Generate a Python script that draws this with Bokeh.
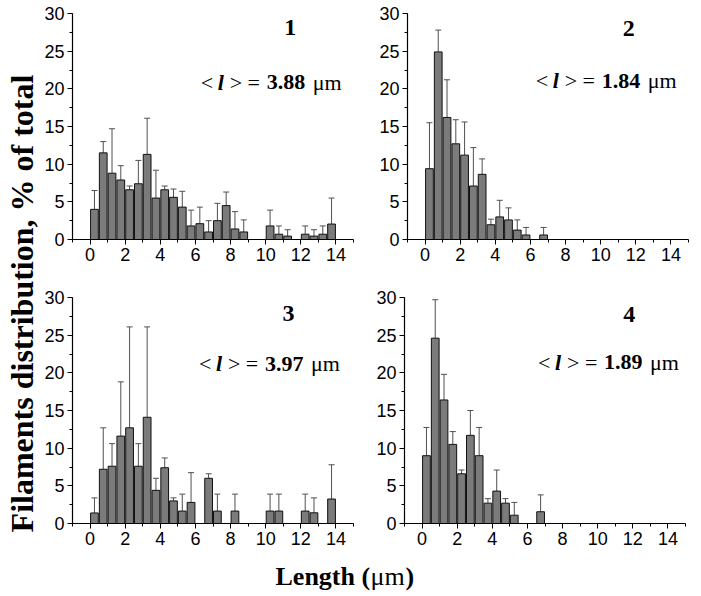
import math
from bokeh.plotting import figure
from bokeh.models import ColumnDataSource, Whisker, TeeHead, SingleIntervalTicker, Label, Range1d
from bokeh.layouts import row, column
from bokeh.embed import file_html
from bokeh.resources import INLINE

# ---------------- data (bin centres in um, % of total, error bar size) -------------
centers1 = [0.25, 0.75, 1.25, 1.75, 2.25, 2.75, 3.25, 3.75, 4.25, 4.75, 5.25, 5.75, 6.25,
            6.75, 7.25, 7.75, 8.25, 8.75, 10.25, 10.75, 11.25, 12.25, 12.75, 13.25, 13.75]
pct1 = [4.0, 11.5, 8.8, 7.9, 6.6, 7.4, 11.3, 5.5, 6.6, 5.6, 4.3, 1.8, 2.1,
        1.0, 2.5, 4.5, 1.4, 1.0, 1.8, 0.7, 0.45, 0.7, 0.45, 0.7, 2.05]
err1 = [2.5, 1.5, 5.9, 1.9, 0.5, 3.1, 4.8, 3.7, 0.5, 1.1, 2.1, 2.1, 2.2,
        1.5, 2.3, 1.8, 2.3, 1.6, 2.1, 1.1, 0.85, 1.1, 0.85, 1.1, 3.45]

centers2 = [0.25, 0.75, 1.25, 1.75, 2.25, 2.75, 3.25, 3.75, 4.25, 4.75, 5.25, 5.75, 6.75]
pct2 = [9.4, 24.9, 16.2, 12.7, 11.2, 7.1, 8.65, 1.96, 3.0, 2.6, 1.25, 0.6, 0.6]
err2 = [6.1, 2.9, 5.0, 3.2, 4.4, 5.1, 2.05, 0.74, 2.2, 1.6, 1.35, 1.0, 1.0]

centers3 = [0.25, 0.75, 1.25, 1.75, 2.25, 2.75, 3.25, 3.75, 4.25, 4.75, 5.25, 5.75,
            6.75, 7.25, 8.25, 10.25, 10.75, 12.25, 12.75, 13.75]
pct3 = [1.4, 7.2, 7.6, 11.6, 12.7, 7.6, 14.1, 4.4, 7.4, 3.0, 1.65, 2.8,
        6.0, 1.65, 1.65, 1.65, 1.65, 1.65, 1.42, 3.25]
err3 = [2.0, 5.5, 3.0, 7.2, 13.4, 3.0, 12.0, 1.6, 1.3, 0.4, 2.25, 3.95,
        0.6, 2.25, 2.25, 2.25, 2.25, 2.25, 1.98, 4.55]

centers4 = [0.25, 0.75, 1.25, 1.75, 2.25, 2.75, 3.25, 3.75, 4.25, 4.75, 5.25, 6.75]
pct4 = [9.0, 24.6, 16.4, 10.5, 6.6, 11.7, 9.0, 2.7, 4.3, 2.7, 1.1, 1.56]
err4 = [3.75, 5.1, 3.4, 1.7, 0.5, 3.3, 3.75, 0.6, 2.8, 0.6, 1.7, 2.24]

panel_ids = ["1", "2", "3", "4"]
mean_lengths = ["3.88", "1.84", "3.97", "1.89"]
x_label = ["Length (", "\u03bcm", ")"]
y_label = "Filaments distribution, % of total"

SERIF = "Liberation Serif"
SANS = "Liberation Sans"


def make_panel(centers, pct, err, pid, mean, num_pos, mean_pos, bl, br, bt, bb):
    p = figure(frame_width=281, frame_height=226, x_range=Range1d(-1, 15), y_range=Range1d(0, 30),
               output_backend="svg", toolbar_location=None,
               min_border_left=bl, min_border_right=br, min_border_top=bt, min_border_bottom=bb)
    p.outline_line_color = None
    p.xgrid.visible = False
    p.ygrid.visible = False
    p.background_fill_color = "white"
    p.border_fill_color = "white"

    upper = [v + e for v, e in zip(pct, err)]
    src = ColumnDataSource(dict(x=centers, top=pct, upper=upper))
    p.vbar(x="x", top="top", bottom=0, width=0.44, source=src,
           fill_color="#7b7b7b", line_color="#111111", line_width=1)
    w = Whisker(source=src, base="x", lower="top", upper="upper", dimension="height",
                line_color="#505050", line_width=1, lower_head=None,
                upper_head=TeeHead(size=6, line_color="#505050", line_width=1))
    p.add_layout(w)

    p.xaxis.ticker = SingleIntervalTicker(interval=2, num_minor_ticks=2)
    p.yaxis.ticker = SingleIntervalTicker(interval=5, num_minor_ticks=2)
    for ax in (p.xaxis, p.yaxis):
        ax.axis_line_color = "black"
        ax.axis_line_width = 1.2
        ax.major_tick_line_color = "black"
        ax.minor_tick_line_color = "black"
        ax.major_tick_in = 0
        ax.major_tick_out = 5
        ax.minor_tick_in = 0
        ax.minor_tick_out = 3
        ax.major_label_text_font = SANS
        ax.major_label_text_font_size = "18px"
        ax.major_label_text_color = "black"
        ax.major_label_standoff = 3

    p.add_layout(Label(x=num_pos[0], y=num_pos[1], text=pid, text_font=SERIF,
                       text_font_style="bold", text_font_size="24px",
                       text_align="center", text_baseline="middle", text_color="black"))
    pieces = [("<", "normal", 0), ("l", "bold italic", 17), ("> =", "normal", 29),
              (mean, "bold", 66), ("\u03bcm", "normal", 112)]
    for txt, style, off in pieces:
        p.add_layout(Label(x=mean_pos[0], y=mean_pos[1], x_offset=off, text=txt,
                           text_font=SERIF, text_font_style=style, text_font_size="22px",
                           text_align="left", text_baseline="middle", text_color="black"))
    return p


p1 = make_panel(centers1, pct1, err1, panel_ids[0], mean_lengths[0], (11.4, 28.2), (6.3, 20.9), 32, 22, 13, 46)
p2 = make_panel(centers2, pct2, err2, panel_ids[1], mean_lengths[1], (11.6, 28.0), (6.3, 21.1), 32, 10, 13, 46)
p3 = make_panel(centers3, pct3, err3, panel_ids[2], mean_lengths[2], (11.3, 27.9), (6.2, 21.2), 32, 19, 12, 30)
p4 = make_panel(centers4, pct4, err4, panel_ids[3], mean_lengths[3], (11.8, 27.7), (6.6, 21.4), 32, 13, 12, 30)


def blank(w, h):
    f = figure(width=w, height=h, x_range=Range1d(0, w), y_range=Range1d(0, h),
               x_axis_type=None, y_axis_type=None, output_backend="svg", toolbar_location=None,
               min_border=0)
    f.outline_line_color = None
    f.grid.visible = False
    return f


ylab = blank(40, 553)
ylab.add_layout(Label(x=21, y=250, text=y_label, angle=math.pi / 2, text_font=SERIF,
                      text_font_style="bold", text_font_size="32px", text_align="center",
                      text_baseline="middle", text_color="black"))

xlab = blank(693, 40)
for txt, style, xx in [(x_label[0], "bold", 275), (x_label[1], "normal", 370), (x_label[2], "bold", 405)]:
    xlab.add_layout(Label(x=xx, y=17, text=txt, text_font=SERIF, text_font_style=style,
                          text_font_size="26px", text_align="left", text_baseline="middle",
                          text_color="black"))

layout = column(row(ylab, column(row(p1, p2), row(p3, p4))), xlab)

open("out.html", "w").write(file_html(layout, INLINE))
